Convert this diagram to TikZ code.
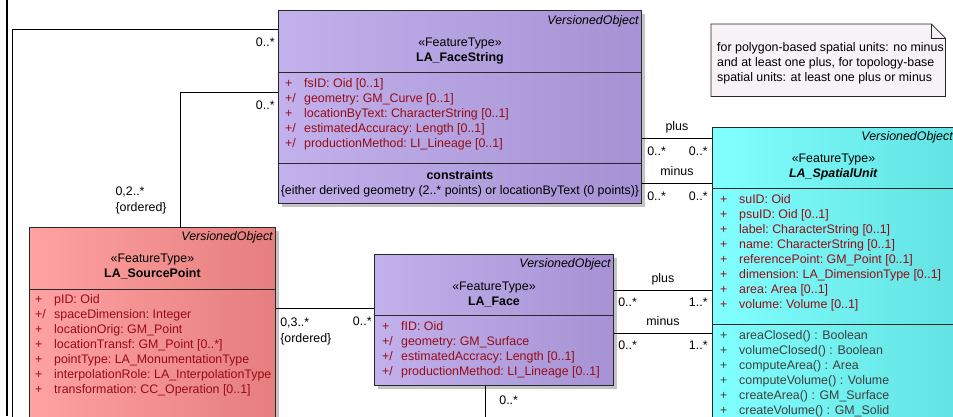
\documentclass[tikz,border=0pt]{standalone}
\usepackage{fontspec}
\setmainfont{Liberation Sans}
\usetikzlibrary{positioning,shadows}
\definecolor{fsviolet}{RGB}{194,177,236}
\definecolor{fsvioletdark}{RGB}{166,146,212}
\definecolor{sprose}{RGB}{255,162,162}
\definecolor{sprosedark}{RGB}{230,126,126}
\definecolor{sucyan}{RGB}{130,255,255}
\definecolor{sucyandark}{RGB}{98,226,226}
\definecolor{notegray}{RGB}{246,242,246}
\definecolor{attrred}{RGB}{150,12,22}
\definecolor{opgray}{RGB}{62,62,62}
\definecolor{inkline}{RGB}{40,40,40}
\definecolor{shadowgray}{RGB}{196,196,196}
\newcommand{\umlfont}{\fontsize{12.4}{15}\selectfont}
\newcommand{\vis}[1]{\makebox[19pt][l]{#1}}
\tikzset{
  featclass/.style={draw=inkline,line width=0.9pt,anchor=north west,inner sep=0pt,
    drop shadow={shadow xshift=3.5pt,shadow yshift=-3.5pt,fill=shadowgray,opacity=1}},
  violetfill/.style={left color=fsviolet,right color=fsvioletdark},
  rosefill/.style={left color=sprose,right color=sprosedark},
  cyanfill/.style={left color=sucyan,right color=sucyandark},
  divider/.style={draw=inkline,line width=0.9pt},
  vo/.style={anchor=east,inner sep=0pt,font=\umlfont\itshape},
  title/.style={anchor=north,align=center,inner sep=0pt,font=\umlfont},
  attrs/.style={anchor=north west,align=left,inner sep=0pt,text=attrred,font=\umlfont},
  ops/.style={attrs,text=opgray},
  assoc/.style={draw=black,line width=0.8pt},
  role/.style={inner sep=0pt,text height=9pt,text depth=2pt,font=\umlfont},
  mult/.style={role},
  ordmult/.style={inner sep=0pt,align=left,font=\fontsize{12.4}{16}\selectfont},
  notebg/.style={anchor=north west,minimum width=234pt,minimum height=72pt,
    inner sep=0pt},
  notebox/.style={draw=inkline,line width=0.8pt},
  notetext/.style={anchor=west,align=left,inner sep=0pt,font=\umlfont}
}
\begin{document}
\begin{tikzpicture}[x=1pt,y=-1pt]
  \useasboundingbox (0,0) rectangle (953,416);
  \draw[line width=2.4pt] (7,0) -- (7,416);

  \node[featclass,violetfill,minimum width=363pt,minimum height=193pt] (facestring) at (278,10) {};
  \node[featclass,rosefill,minimum width=246pt,minimum height=230pt] (sourcepoint) at (29,227) {};
  \node[featclass,violetfill,minimum width=239pt,minimum height=131pt] (face) at (374,254) {};
  \node[featclass,cyanfill,minimum width=244pt,minimum height=300pt] (spatialunit) at (712,127) {};

  \draw[divider] ([yshift=-62pt]facestring.north west) -- ([yshift=-62pt]facestring.north east);
  \draw[divider] ([yshift=-153pt]facestring.north west) -- ([yshift=-153pt]facestring.north east);
  \draw[divider] ([yshift=-62pt]sourcepoint.north west) -- ([yshift=-62pt]sourcepoint.north east);
  \draw[divider] ([yshift=-61pt]face.north west) -- ([yshift=-61pt]face.north east);
  \draw[divider] ([yshift=-61pt]spatialunit.north west) -- ([yshift=-61pt]spatialunit.north east);
  \draw[divider] ([yshift=-197pt]spatialunit.north west) -- ([yshift=-197pt]spatialunit.north east);

  \node[vo] (fsvo) at ([xshift=-3pt,yshift=-11pt]facestring.north east) {VersionedObject};
  \node[title] (fstitle) at ([yshift=-26pt]facestring.north) {\strut«FeatureType»\\\textbf{LA\_FaceString}};
  \node[attrs] (fsattr) at ([xshift=7pt,yshift=-67pt]facestring.north west)
    {\strut\vis{+}fsID:\ Oid [0..1]\\
     \vis{+/}geometry:\ GM\_Curve [0..1]\\
     \vis{+}locationByText:\ CharacterString [0..1]\\
     \vis{+/}estimatedAccuracy:\ Length [0..1]\\
     \vis{+/}productionMethod:\ LI\_Lineage [0..1]};
  \node[title] (fscons) at ([yshift=-159pt]facestring.north)
    {\strut\textbf{constraints}\\\{either derived geometry (2..* points) or locationByText (0 points)\}};

  \node[vo] (spvo) at ([xshift=-3pt,yshift=-10pt]sourcepoint.north east) {VersionedObject};
  \node[title] (sptitle) at ([yshift=-25pt]sourcepoint.north) {\strut«FeatureType»\\\textbf{LA\_SourcePoint}};
  \node[attrs] (spattr) at ([xshift=6pt,yshift=-66pt]sourcepoint.north west)
    {\strut\vis{+}pID:\ Oid\\
     \vis{+/}spaceDimension:\ Integer\\
     \vis{+}locationOrig:\ GM\_Point\\
     \vis{+}locationTransf:\ GM\_Point [0..*]\\
     \vis{+}pointType:\ LA\_MonumentationType\\
     \vis{+}interpolationRole:\ LA\_InterpolationType\\
     \vis{+}transformation:\ CC\_Operation [0..1]};

  \node[vo] (fvo) at ([xshift=-3pt,yshift=-10pt]face.north east) {VersionedObject};
  \node[title] (ftitle) at ([yshift=-26pt]face.north) {\strut«FeatureType»\\\textbf{LA\_Face}};
  \node[attrs] (fattr) at ([xshift=8pt,yshift=-66pt]face.north west)
    {\strut\vis{+}fID:\ Oid\\
     \vis{+/}geometry:\ GM\_Surface\\
     \vis{+/}estimatedAccracy:\ Length [0..1]\\
     \vis{+/}productionMethod:\ LI\_Lineage [0..1]};

  \node[vo] (suvo) at ([xshift=-4pt,yshift=-10pt]spatialunit.north east) {VersionedObject};
  \node[title] (sutitle) at ([yshift=-25pt,xshift=-1pt]spatialunit.north) {\strut«FeatureType»\\\textbf{\textit{LA\_SpatialUnit}}};
  \node[attrs] (suattr) at ([xshift=8pt,yshift=-66pt]spatialunit.north west)
    {\strut\vis{+}suID:\ Oid\\
     \vis{+}psuID:\ Oid [0..1]\\
     \vis{+}label:\ CharacterString [0..1]\\
     \vis{+}name:\ CharacterString [0..1]\\
     \vis{+}referencePoint:\ GM\_Point [0..1]\\
     \vis{+}dimension:\ LA\_DimensionType [0..1]\\
     \vis{+}area:\ Area [0..1]\\
     \vis{+}volume:\ Volume [0..1]};
  \node[ops] (suops) at ([xshift=8pt,yshift=-202pt]spatialunit.north west)
    {\strut\vis{+}areaClosed() : Boolean\\
     \vis{+}volumeClosed() : Boolean\\
     \vis{+}computeArea() : Area\\
     \vis{+}computeVolume() : Volume\\
     \vis{+}createArea() : GM\_Surface\\
     \vis{+}createVolume() : GM\_Solid};

  \node[notebg] (note) at (711,24) {};
  \draw[notebox,fill=notegray] (note.north west) -- ([xshift=-14pt]note.north east)
    -- ([yshift=-14pt]note.north east) -- (note.south east) -- (note.south west) -- cycle;
  \draw[notebox] ([xshift=-14pt]note.north east) |- ([yshift=-14pt]note.north east);
  \node[notetext] (notetext) at ([xshift=6pt,yshift=-3pt]note.west)
    {for polygon-based spatial units: no minus\\
     and at least one plus, for topology-base\\
     spatial units: at least one plus or minus};

  \coordinate (frameend) at (12,420);
  \draw[assoc] ([yshift=-19pt]facestring.north west) -| (frameend)
    node[mult,pos=0,below left=8pt and 3pt] (m1) {0..*};
  \draw[assoc] ([yshift=-82pt]facestring.north west) -| ([xshift=151pt]sourcepoint.north west)
    node[mult,pos=0,below left=8pt and 3pt] (m2) {0..*}
    node[ordmult,pos=1,above left=13pt and 13pt] (m3) {0,2..*\\\{ordered\}};

  \coordinate (spin) at ([yshift=-54pt]face.north west);
  \draw[assoc] (sourcepoint.east |- spin) -- (spin)
    node[ordmult,pos=0,below right=9pt and 4pt] (m4) {0,3..*\\\{ordered\}}
    node[mult,pos=1,below left=8pt and 2pt] (m5) {0..*};

  \coordinate (fsplus) at ([yshift=-128pt]facestring.north east);
  \draw[assoc] (fsplus) -- (spatialunit.west |- fsplus)
    node[role,midway,above=5pt] (r1) {plus}
    node[mult,pos=0,below right=8pt and 5pt] (m6) {0..*}
    node[mult,pos=1,below left=8pt and 4pt] (m7) {0..*};
  \coordinate (fsminus) at ([yshift=-173pt]facestring.north east);
  \draw[assoc] (fsminus) -- (spatialunit.west |- fsminus)
    node[role,midway,above=5pt] (r2) {minus}
    node[mult,pos=0,below right=8pt and 5pt] (m8) {0..*}
    node[mult,pos=1,below left=8pt and 4pt] (m9) {0..*};

  \coordinate (fplus) at ([yshift=-36pt]face.north east);
  \draw[assoc] (fplus) -- (spatialunit.west |- fplus)
    node[role,midway,above=5pt] (r3) {plus}
    node[mult,pos=0,below right=7pt and 4pt] (m10) {0..*}
    node[mult,pos=1,below left=7pt and 4pt] (m11) {1..*};
  \coordinate (fminus) at ([yshift=-79pt]face.north east);
  \draw[assoc] (fminus) -- (spatialunit.west |- fminus)
    node[role,midway,above=5pt] (r4) {minus}
    node[mult,pos=0,below right=7pt and 4pt] (m12) {0..*}
    node[mult,pos=1,below left=7pt and 4pt] (m13) {1..*};

  \coordinate (faceend) at (485,420);
  \draw[assoc] (face.south -| faceend) -- (faceend)
    node[mult,pos=0,below right=9pt and 14pt] (m14) {0..*};
\end{tikzpicture}
\end{document}
